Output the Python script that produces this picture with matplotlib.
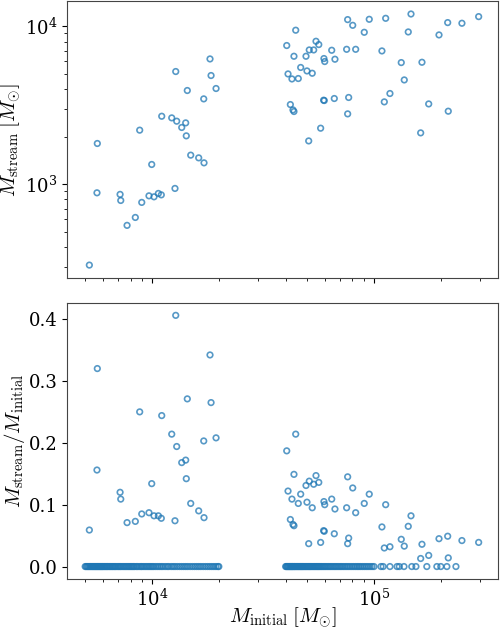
import numpy as np
import matplotlib
matplotlib.use("Agg")
import matplotlib.pyplot as plt

plt.rcParams['font.family'] = 'serif'
plt.rcParams['font.serif'] = ['DejaVu Serif']
plt.rcParams['mathtext.fontset'] = 'cm'

# clusters with a surviving stream (M_initial, M_stream, ratio)
m_init = [5670, 5650, 5220, 7180, 7230, 7720, 8410, 8990, 8800, 9690,
          9970, 10210, 10680, 11010, 11060, 12690, 12790, 12270, 12920, 13610,
          14180, 14270, 14420, 14940, 16230, 17150, 17100, 18250, 18450, 19430,
          40450, 44400, 43600, 41000, 42700, 45600, 46750, 49400, 49900, 51100,
          52700, 53500, 54800, 56400, 59500, 59980, 64500, 66700, 75300, 76100,
          80200, 82700, 90400, 95200, 108600, 112900, 132700, 142700, 146800, 136900,
          164500, 196300, 214800, 249000, 296200, 42000, 43160, 43600, 59300, 59700,
          66250, 76900, 76100, 57500, 50800, 111300, 118000, 176400, 216100, 162300]
m_stream = [1809, 881, 307, 861, 788, 548, 615, 766, 2197, 843,
            1332, 831, 873, 855, 2692, 939, 5168, 2628, 2504, 2285,
            2443, 2022, 3918, 1526, 1467, 1364, 3467, 6209, 4875, 4034,
            7551, 9441, 6457, 4989, 4637, 4666, 5483, 6457, 5212, 7079,
            5040, 7079, 8035, 7656, 6246, 5978, 7047, 6183, 7145, 11020,
            10140, 7145, 9159, 11070, 6978, 11230, 5888, 9204, 11960, 4571,
            5915, 8813, 10550, 10450, 11510, 3192, 2951, 2884, 3401, 3385,
            3486, 3539, 2786, 2261, 1878, 3319, 3750, 3221, 2897, 2112]
ratio = [0.320, 0.156, 0.059, 0.120, 0.109, 0.071, 0.073, 0.085, 0.250, 0.087,
         0.134, 0.082, 0.082, 0.078, 0.244, 0.074, 0.406, 0.214, 0.194, 0.168,
         0.172, 0.142, 0.271, 0.102, 0.090, 0.079, 0.203, 0.342, 0.265, 0.208,
         0.187, 0.214, 0.149, 0.122, 0.109, 0.102, 0.117, 0.131, 0.104, 0.138,
         0.095, 0.133, 0.147, 0.136, 0.105, 0.100, 0.109, 0.093, 0.095, 0.145,
         0.127, 0.087, 0.102, 0.117, 0.064, 0.100, 0.044, 0.065, 0.082, 0.033,
         0.036, 0.045, 0.049, 0.042, 0.039, 0.076, 0.068, 0.066, 0.058, 0.057,
         0.053, 0.046, 0.037, 0.039, 0.037, 0.030, 0.032, 0.018, 0.014, 0.013]

# fully dissolved clusters (ratio = 0), initial masses
m_zero = [5000, 5050, 5100, 5150, 5200, 5250, 5300, 5350, 5400, 5450,
          5500, 5550, 5600, 5650, 5700, 5750, 5800, 5850, 5900, 5950,
          6000, 6060, 6120, 6180, 6250, 6300, 6380, 6450, 6520, 6600,
          6670, 6750, 6820, 6900, 7000, 7080, 7170, 7250, 7350, 7450,
          7550, 7650, 7750, 7850, 7950, 8050, 8150, 8250, 8350, 8500,
          8600, 8750, 8900, 9000, 9150, 9300, 9450, 9600, 9750, 9900,
          10050, 10200, 10400, 10600, 10800, 11000, 11200, 11450, 11700, 11900,
          12200, 12450, 12700, 13000, 13300, 13600, 13900, 14200, 14500, 14850,
          15200, 15550, 15900, 16250, 16600, 17000, 17400, 17800, 18200, 18600,
          19000, 19400, 19800, 20000,
          40000, 40300, 40600, 40900, 41200, 41500, 41800, 42100, 42400, 42700,
          43000, 43300, 43700, 44000, 44400, 44800, 45200, 45600, 46000, 46400,
          46800, 47200, 47600, 48000, 48500, 49000, 49500, 50000, 50500, 51000,
          51500, 52000, 52600, 53200, 53800, 54400, 55000, 55600, 56200, 56800,
          57500, 58200, 59000, 59800, 60600, 61500, 62400, 63300, 64200, 65200,
          66200, 67200, 68200, 69300, 70400, 71500, 72700, 74000, 75300, 76600,
          78000, 79500, 81000, 82500, 84000, 85500, 87000, 88700, 90400, 92200,
          94000, 96000, 98000, 100000, 107500, 110000, 118000, 127000, 130000, 136500,
          148000, 154500, 173000, 192000, 200000, 213000, 234000]

fig = plt.figure(figsize=(5.0, 6.32), dpi=100)
ax1 = fig.add_axes([0.134, 0.56, 0.862, 0.438])
ax2 = fig.add_axes([0.134, 0.084, 0.862, 0.4366], sharex=ax1)

kw = dict(s=16, facecolors='none', edgecolors='C0', linewidths=1.2, alpha=0.75)

ax1.scatter(m_init, m_stream, **kw)
ax1.set_xscale('log')
ax1.set_yscale('log')
ax1.set_ylim(254, 14400)
ax1.set_xlim(4140, 362000)
ax1.set_ylabel(r'$M_{\rm stream}\;[M_{\odot}]$', fontsize=15, labelpad=1)
ax1.tick_params(labelbottom=False)

ax2.scatter(m_init, ratio, **kw)
ax2.scatter(m_zero, np.zeros(len(m_zero)), **kw)
ax2.set_ylim(-0.02, 0.426)
ax2.set_yticks([0.0, 0.1, 0.2, 0.3, 0.4])
ax2.set_xlabel(r'$M_{\rm initial}\;[M_{\odot}]$', fontsize=15, labelpad=-3)
ax2.set_ylabel(r'$M_{\rm stream}/M_{\rm initial}$', fontsize=15, labelpad=1)

for ax in (ax1, ax2):
    ax.tick_params(labelsize=13)
    for sp in ax.spines.values():
        sp.set_color('#444444')

fig.savefig('out.png', dpi=100)
